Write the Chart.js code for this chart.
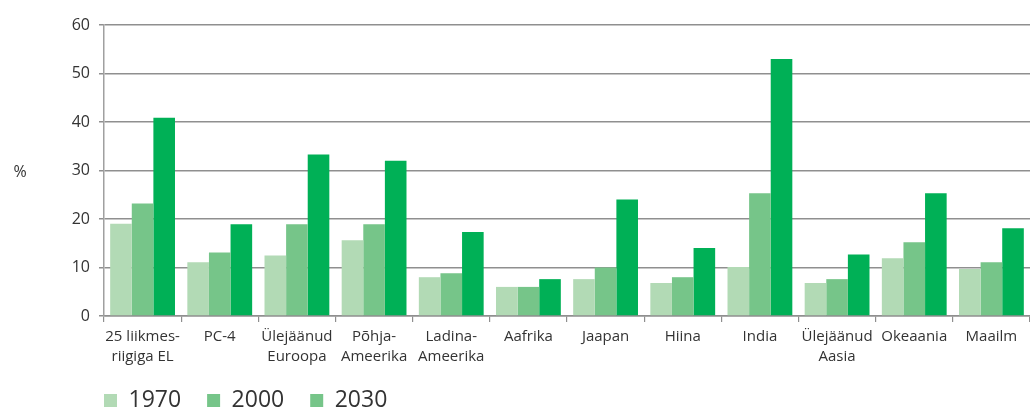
<!DOCTYPE html>
<html>
<head>
<meta charset="utf-8">
<script src="https://cdn.jsdelivr.net/npm/chart.js@4/dist/chart.umd.min.js"></script>
<style>
	html, body { margin: 0; padding: 0; background: #fff; overflow: hidden; }
	#wrap { width: 1030px; height: 407px; position: relative; }
</style>
</head>
<body>
<div id="wrap"><canvas id="chart"></canvas></div>
<script>
// Regions (multi-line labels as in the original)
const categories = [
	["25 liikmes-", "riigiga EL"],
	"PC-4",
	["Ülejäänud", "Euroopa"],
	["Põhja-", "Ameerika"],
	["Ladina-", "Ameerika"],
	"Aafrika",
	"Jaapan",
	"Hiina",
	"India",
	["Ülejäänud", "Aasia"],
	"Okeaania",
	"Maailm",
];

const seriesNames = ["1970", "2000", "2030"];

const values1970 = [19.0, 11.1, 12.5, 15.6, 8.0, 6.0, 7.6, 6.8, 10.1, 6.8, 11.9, 9.7];
const values2000 = [23.2, 13.1, 18.9, 18.9, 8.8, 6.0, 10.0, 8.0, 25.3, 7.6, 15.2, 11.1];
const values2030 = [40.9, 18.9, 33.3, 32.0, 17.3, 7.6, 24.0, 14.0, 53.0, 12.7, 25.3, 18.1];

const yTicks = [0, 10, 20, 30, 40, 50, 60];

const barColors = ["#b2dab5", "#76c589", "#00b056"];
// the printed legend shows 2030 with the 2000 swatch
const legendColors = ["#b2dab5", "#76c589", "#76c589"];

const textColor = "#333333";
const gridColor = "#8f8f8f";
const fontFamily = "'Open Sans', 'DejaVu Sans', sans-serif";
const legendPadding = 26;

// "%" label left of the y axis, horizontal
const percentLabel = {
	id: "percentLabel",
	afterDraw(chart) {
		const ctx = chart.ctx;
		const area = chart.chartArea;
		ctx.save();
		ctx.fillStyle = textColor;
		ctx.font = `16px ${fontFamily}`;
		ctx.textAlign = "center";
		ctx.textBaseline = "middle";
		ctx.fillText("%", 20, (area.top + area.bottom) / 2 + 2);
		ctx.restore();
	},
};

// keep the legend compact, at the bottom edge and flush with the plot's left edge
const legendPlacement = {
	id: "legendPlacement",
	afterInit(chart) {
		const legend = chart.legend;
		const origFit = legend.fit.bind(legend);
		legend.fit = function () {
			origFit();
			this.height = 28;
		};
	},
	afterLayout(chart) {
		const legend = chart.legend;
		legend.left -= legendPadding;
		legend.right -= legendPadding;
		legend.top = 363;
		legend.bottom = 407;
	},
};

const ctx = document.getElementById("chart").getContext("2d");
new Chart(ctx, {
	type: "bar",
	data: {
		labels: categories,
		datasets: [
			{ label: seriesNames[0], data: values1970, backgroundColor: barColors[0] },
			{ label: seriesNames[1], data: values2000, backgroundColor: barColors[1] },
			{ label: seriesNames[2], data: values2030, backgroundColor: barColors[2] },
		],
	},
	options: {
		responsive: true,
		maintainAspectRatio: false,
		animation: false,
		datasets: {
			bar: {
				categoryPercentage: 0.84,
				barPercentage: 1.0,
			},
		},
		layout: {
			padding: { top: 25, right: 0, bottom: 0, left: 0 },
		},
		scales: {
			x: {
				offset: true,
				afterFit(scale) {
					scale.height = 63;
				},
				grid: {
					display: true,
					offset: true,
					drawOnChartArea: false,
					drawTicks: true,
					tickLength: 6,
					color: gridColor,
					lineWidth: 1.2,
				},
				border: { display: true, color: gridColor, width: 1.5 },
				ticks: {
					color: textColor,
					font: { family: fontFamily, size: 15, lineHeight: 1.3 },
					padding: 5,
					maxRotation: 0,
					autoSkip: false,
				},
			},
			y: {
				min: 0,
				max: 60,
				afterBuildTicks(scale) {
					scale.ticks = yTicks.map((v) => ({ value: v }));
				},
				afterFit(scale) {
					scale.width = 104;
				},
				grid: {
					color: gridColor,
					lineWidth: 1.5,
					tickLength: 5,
				},
				border: { display: true, color: "#a0a0a0", width: 1.5 },
				ticks: {
					color: textColor,
					font: { family: fontFamily, size: 16 },
					padding: 9,
				},
			},
		},
		plugins: {
			legend: {
				position: "bottom",
				align: "start",
				fullSize: false,
				labels: {
					color: textColor,
					font: { family: fontFamily, size: 23 },
					boxWidth: 13,
					boxHeight: 13,
					padding: legendPadding,
					generateLabels(chart) {
						return chart.data.datasets.map((ds, i) => ({
							text: ds.label,
							fillStyle: legendColors[i],
							strokeStyle: legendColors[i],
							lineWidth: 0,
							fontColor: textColor,
							datasetIndex: i,
						}));
					},
				},
			},
			tooltip: { enabled: false },
		},
	},
	plugins: [percentLabel, legendPlacement],
});
</script>
</body>
</html>
